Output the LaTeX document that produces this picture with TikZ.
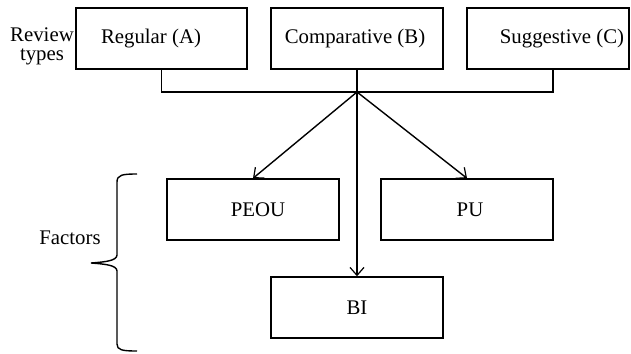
\documentclass[tikz,border=0pt]{standalone}
\usepackage{fontspec}
\setmainfont{Liberation Serif}
\usetikzlibrary{arrows.meta}
\begin{document}
\begin{tikzpicture}[x=0.5pt,y=-0.5pt,
  font=\fontsize{10.4}{11}\selectfont,
  line width=0.7pt,
  box/.style={draw, rectangle, minimum height=30.5pt, inner sep=0pt},
  arr/.style={-{Straight Barb[length=4pt,width=7pt,line width=0.6pt]}}]
\useasboundingbox (0,0) rectangle (631,353);
% review type boxes
\node[box, minimum width=85.5pt, label={[xshift=-5.25pt]center:Regular (A)}] (A) at (161.5,38.5) {};
\node[box, minimum width=86pt, label={[xshift=-1pt]center:Comparative (B)}] (B) at (357,38.5) {};
\node[box, minimum width=81pt, label={[xshift=7pt]center:Suggestive (C)}] (C) at (548,38.5) {};
\node[align=center, inner sep=0pt, font=\fontsize{10.4}{9.6}\selectfont] (rt) at (42,46) {Review\\types};
% factor boxes
\node[box, minimum width=86pt, label={[xshift=2.5pt]center:PEOU}] (PEOU) at (253,209.5) {};
\node[box, minimum width=86pt, label={[xshift=1.5pt]center:PU}] (PU) at (467,209.5) {};
\node[box, minimum width=86pt] (BI) at (357,307.5) {BI};
% connectors
\coordinate (J) at (357,92);
\draw (A.south) |- (J);
\draw ([xshift=2.5pt]C.south) |- (J);
\draw (B.south) -- (J);
\draw[arr] (J) -- (PEOU.north);
\draw[arr] (J) -- (PU.north);
\draw[arr] (J) -- (BI.north);
% brace
\draw[line width=0.7pt] (137,174) .. controls (122,174) and (117,175) .. (117,182)
  -- (117,255) .. controls (117,261) and (104,262) .. (91,263)
  .. controls (104,264) and (117,265) .. (117,271)
  -- (117,344) .. controls (117,350) and (122,351) .. (137,351);
\node (fac) at (70,238) {Factors};
\end{tikzpicture}
\end{document}
